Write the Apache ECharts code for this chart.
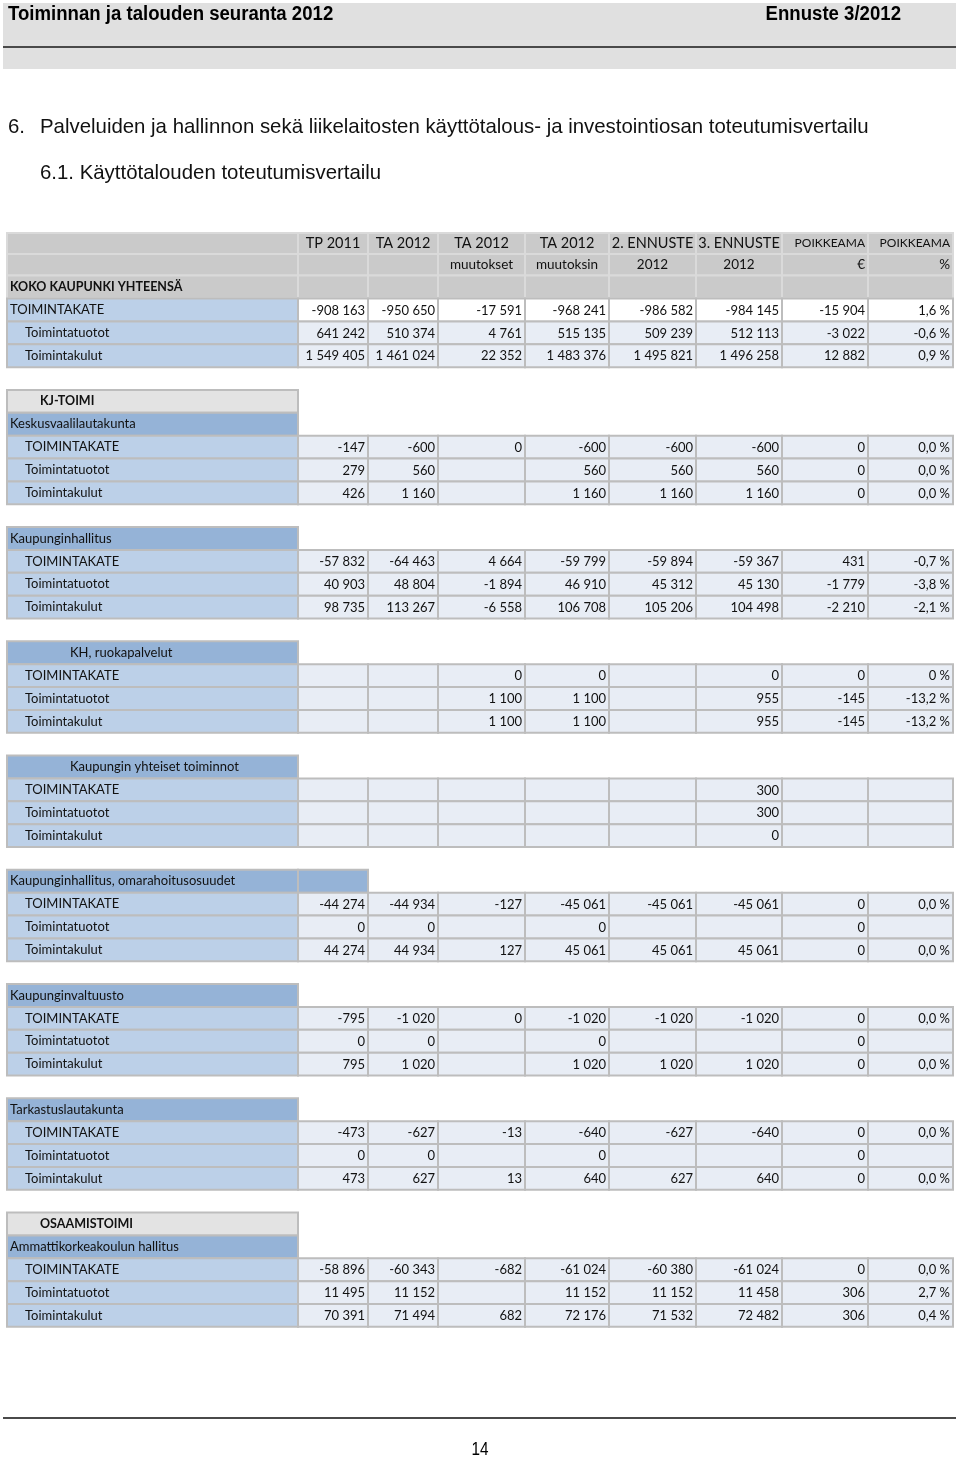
<!DOCTYPE html>
<html>
<head>
<meta charset="utf-8">
<script src="https://cdn.jsdelivr.net/npm/echarts@6/dist/echarts.min.js"></script>
<style>
  html, body { margin: 0; padding: 0; background: #fff; }
  #main { width: 960px; height: 1459px; }
</style>
</head>
<body>
<div id="main"></div>
<script>
// column headers
const headTop = ['TP 2011', 'TA 2012', 'TA 2012', 'TA 2012', '2. ENNUSTE', '3. ENNUSTE', 'POIKKEAMA', 'POIKKEAMA'];
const headSub = ['', '', 'muutokset', 'muutoksin', '2012', '2012', '€', '%'];
const rowLabels = ['TOIMINTAKATE', 'Toimintatuotot', 'Toimintakulut'];

// values per unit: [TOIMINTAKATE, Toimintatuotot, Toimintakulut]
const kokoKaupunki = [
  [-908163, -950650, -17591, -968241, -986582, -984145, -15904, '1,6 %'],
  [641242, 510374, 4761, 515135, 509239, 512113, -3022, '-0,6 %'],
  [1549405, 1461024, 22352, 1483376, 1495821, 1496258, 12882, '0,9 %'],
];
const keskusvaali = [
  [-147, -600, 0, -600, -600, -600, 0, '0,0 %'],
  [279, 560, null, 560, 560, 560, 0, '0,0 %'],
  [426, 1160, null, 1160, 1160, 1160, 0, '0,0 %'],
];
const kaupunginhallitus = [
  [-57832, -64463, 4664, -59799, -59894, -59367, 431, '-0,7 %'],
  [40903, 48804, -1894, 46910, 45312, 45130, -1779, '-3,8 %'],
  [98735, 113267, -6558, 106708, 105206, 104498, -2210, '-2,1 %'],
];
const ruokapalvelut = [
  [null, null, 0, 0, null, 0, 0, '0 %'],
  [null, null, 1100, 1100, null, 955, -145, '-13,2 %'],
  [null, null, 1100, 1100, null, 955, -145, '-13,2 %'],
];
const yhteiset = [
  [null, null, null, null, null, 300, null, null],
  [null, null, null, null, null, 300, null, null],
  [null, null, null, null, null, 0, null, null],
];
const omarahoitus = [
  [-44274, -44934, -127, -45061, -45061, -45061, 0, '0,0 %'],
  [0, 0, null, 0, null, null, 0, null],
  [44274, 44934, 127, 45061, 45061, 45061, 0, '0,0 %'],
];
const valtuusto = [
  [-795, -1020, 0, -1020, -1020, -1020, 0, '0,0 %'],
  [0, 0, null, 0, null, null, 0, null],
  [795, 1020, null, 1020, 1020, 1020, 0, '0,0 %'],
];
const tarkastus = [
  [-473, -627, -13, -640, -627, -640, 0, '0,0 %'],
  [0, 0, null, 0, null, null, 0, null],
  [473, 627, 13, 640, 627, 640, 0, '0,0 %'],
];
const amk = [
  [-58896, -60343, -682, -61024, -60380, -61024, 0, '0,0 %'],
  [11495, 11152, null, 11152, 11152, 11458, 306, '2,7 %'],
  [70391, 71494, 682, 72176, 71532, 72482, 306, '0,4 %'],
];

const sections = [
  { group: 'KJ-TOIMI', title: 'Keskusvaalilautakunta', rows: keskusvaali },
  { title: 'Kaupunginhallitus', rows: kaupunginhallitus },
  { title: 'KH, ruokapalvelut', rows: ruokapalvelut, indent: true },
  { title: 'Kaupungin yhteiset toiminnot', rows: yhteiset, indent: true },
  { title: 'Kaupunginhallitus, omarahoitusosuudet', rows: omarahoitus, wide: true },
  { title: 'Kaupunginvaltuusto', rows: valtuusto },
  { title: 'Tarkastuslautakunta', rows: tarkastus },
  { group: 'OSAAMISTOIMI', title: 'Ammattikorkeakoulun hallitus', rows: amk },
];

const colEdges = [7, 298, 368, 438, 525, 609, 696, 782, 868, 953];
const headTops = [233, 254, 275.5, 298.6];
const bodyTop = 298.6;
const rowH = 22.85;

const FONT = 'Lato, "Open Sans", sans-serif';
const C = {
  head: '#cacaca',
  headLine: '#dadada',
  label: '#bcd0e8',
  section: '#95b3d7',
  data: '#e8edf5',
  groupBox: '#e3e3e3',
  border: '#bdbdbd',
  text: '#111111',
};

const fmt = (v) => {
  if (v === null || v === undefined) return '';
  if (typeof v === 'string') return v;
  const s = String(Math.abs(v)).replace(/\B(?=(\d{3})+(?!\d))/g, ' ');
  return (v < 0 ? '-' : '') + s;
};

const g = [];
const rect = (x, y, w, h, fill, stroke, lw) => g.push({
  type: 'rect', silent: true,
  shape: { x, y, width: w, height: h },
  style: { fill, stroke: stroke || null, lineWidth: lw || 0 },
});
const text = (x, y, str, font, align, fill, sx) => g.push({
  type: 'text', silent: true,
  x, y, scaleX: sx || 1,
  style: {
    x: 0, y: 0, text: str, font, fill: fill || C.text,
    textAlign: align || 'left', align: align || 'left',
    textVerticalAlign: 'middle', verticalAlign: 'middle',
  },
});
const rowY = (r) => (r < 3 ? headTops[r] : bodyTop + (r - 3) * rowH);
const rowHt = (r) => (r < 3 ? headTops[r + 1] - headTops[r] : rowH);
const rowMid = (r) => rowY(r) + rowHt(r) / 2;
const cell = (c, r, fill, stroke) => {
  const x0 = colEdges[c];
  rect(x0, rowY(r), colEdges[c + 1] - x0, rowHt(r), fill, stroke || C.border, 2);
};

// page header band
const narrow = 'bold 20px "Liberation Sans", Arial, sans-serif';
rect(3, 3, 953, 66, '#e0e0e0');
rect(3, 46, 953, 2, '#4a4a4a');
text(8, 14, 'Toiminnan ja talouden seuranta 2012', narrow, 'left', '#000', 0.93);
text(901, 14, 'Ennuste 3/2012', narrow, 'right', '#000', 0.93);

// headings
const headingFont = '20.4px "Liberation Sans", Arial, sans-serif';
text(8, 127, '6.', headingFont);
text(40, 127, 'Palveluiden ja hallinnon sekä liikelaitosten käyttötalous- ja investointiosan toteutumisvertailu', headingFont);
text(40, 173, '6.1. Käyttötalouden toteutumisvertailu', headingFont);

// table header rows
for (let r = 0; r < 3; r++) {
  for (let c = 0; c < 9; c++) cell(c, r, C.head, C.headLine);
}
headTop.forEach((t, i) => {
  const c = i + 1;
  const small = i >= 6;
  const x = small ? colEdges[c + 1] - 3 : (colEdges[c] + colEdges[c + 1]) / 2;
  text(x, rowMid(0), t, (small ? '12px ' : '14.5px ') + FONT, small ? 'right' : 'center');
});
headSub.forEach((t, i) => {
  if (!t) return;
  const c = i + 1;
  const right = i >= 6;
  const x = right ? colEdges[c + 1] - 3 : (colEdges[c] + colEdges[c + 1]) / 2;
  text(x, rowMid(1), t, '13.5px ' + FONT, right ? 'right' : 'center');
});
text(10, rowMid(2), 'KOKO KAUPUNKI YHTEENSÄ', 'bold 12.5px ' + FONT);

const dataRows = (rows, startRow, first) => {
  rows.forEach((vals, k) => {
    const r = startRow + k;
    cell(0, r, C.label);
    text(first && k === 0 ? 10 : 25, rowMid(r), rowLabels[k], '13px ' + FONT);
    vals.forEach((v, i) => {
      const c = i + 1;
      cell(c, r, first && k === 0 ? '#ffffff' : C.data);
      const s = fmt(v);
      if (s) text(colEdges[c + 1] - 3, rowMid(r) + 0.5, s, '13px ' + FONT, 'right');
    });
  });
};

dataRows(kokoKaupunki, 3, true);

let row = 6;
sections.forEach((sec) => {
  row++; // blank row
  if (sec.group) {
    cell(0, row, C.groupBox);
    text(40, rowMid(row), sec.group, 'bold 12.5px ' + FONT);
    row++;
  }
  cell(0, row, C.section);
  if (sec.wide) cell(1, row, C.section);
  text(sec.indent ? 70 : 10, rowMid(row), sec.title, '13px ' + FONT);
  row++;
  dataRows(sec.rows, row, false);
  row += 3;
});

// footer
rect(3, 1417, 953, 2, '#4a4a4a');
text(480, 1450, '14', '18px "Liberation Sans", Arial, sans-serif', 'center', '#000', 0.85);

const chart = echarts.init(document.getElementById('main'), null, { renderer: 'canvas' });
chart.setOption({
  animation: false,
  graphic: { elements: g },
});
</script>
</body>
</html>
